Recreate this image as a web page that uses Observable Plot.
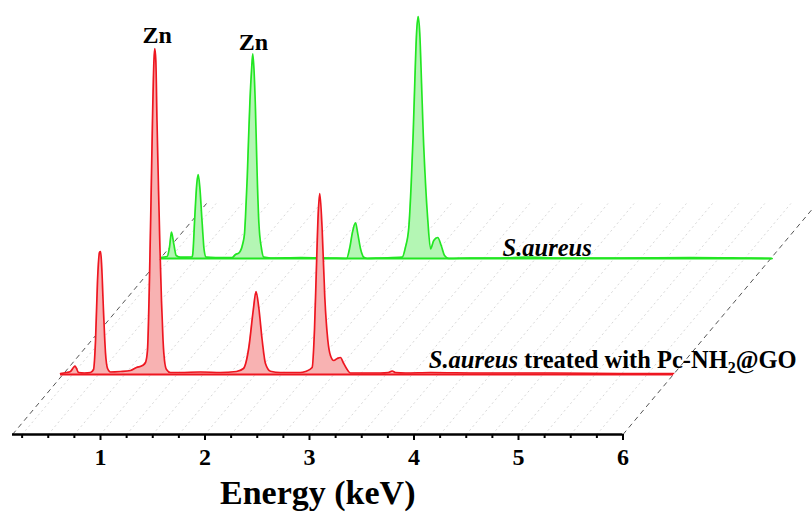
<!DOCTYPE html>
<html><head><meta charset="utf-8">
<script src="https://cdn.jsdelivr.net/npm/d3@7"></script>
<script src="https://cdn.jsdelivr.net/npm/@observablehq/plot@0.6"></script>
<style>body{margin:0;background:#fff}#chart svg{display:block}</style>
</head><body><div id="chart"></div>
<script>
// ---------- data ----------
const majorTicks = [1, 2, 3, 4, 5, 6];
const minorTicks = [0.25, 0.5, 0.75, 1.25, 1.5, 1.75, 2.25, 2.5, 2.75, 3.25, 3.5, 3.75, 4.25, 4.5, 4.75, 5.25, 5.5, 5.75];
const gridTicks = [0.25, 0.5, 0.75, 1, 1.25, 1.5, 1.75, 2, 2.25, 2.5, 2.75, 3, 3.25, 3.5, 3.75, 4, 4.25, 4.5, 4.75, 5, 5.25, 5.5, 5.75];
const axisRange = [0.158, 6];
const axisTitle = "Energy (keV)";

// S.aureus treated with Pc-NH2@GO (front, red)
const redEnergy = [0.139,0.196,0.234,0.263,0.278,0.292,0.311,0.368,0.426,0.455,0.474,0.493,0.512,0.522,0.531,0.550,0.569,0.589,0.617,0.713,0.809,0.866,0.923,0.952,0.971,0.990,1.005,1.019,1.033,1.041,1.051,1.062,1.077,1.091,1.105,1.120,1.134,1.153,1.191,1.287,1.478,1.670,1.823,1.890,1.941,1.983,2.010,2.036,2.069,2.100,2.148,2.244,2.340,2.435,2.483,2.547,2.569,2.589,2.605,2.620,2.643,2.668,2.697,2.722,2.754,2.787,2.818,2.844,2.876,2.914,3.010,3.201,3.278,3.313,3.344,3.440,3.679,4.158,4.828,5.498,6.005];
const redCounts = [1,2,3,7,8.5,6,2,1.5,2,5,34,94,122,123,112,64,22,6,2.5,3,4,7,9,12,24,94,174,254,314,326,314,254,184,124,74,34,14,5,2,2,2.5,2,3,6,27,64,83,67,34,11,3.3,2,2,2,3,7,44,111,161,181,144,77,34,19,14,16,17,12,6,1.5,1.5,1.5,2,3.5,2,1.5,2,1.5,1.5,1,1];

// S.aureus (back, green)
const greenEnergy = [0.158,0.222,0.244,0.263,0.285,0.308,0.349,0.461,0.467,0.486,0.505,0.519,0.534,0.557,0.576,0.595,0.684,0.844,0.876,0.907,0.945,0.962,0.971,0.988,1.000,1.014,1.029,1.041,1.053,1.067,1.083,1.099,1.124,1.146,1.211,1.498,1.785,1.938,1.970,1.992,2.024,2.046,2.072,2.103,2.136,2.263,2.471,2.502,2.534,2.557,2.576,2.591,2.608,2.624,2.639,2.656,2.672,2.694,2.716,2.742,2.773,2.811,2.844,2.876,2.917,3.124,3.411,3.670,3.986,4.560,5.230,5.708,6.011];
const greenCounts = [1,2,11.3,26.3,14.7,3,1.3,1.5,4.7,41.3,74.7,84,71.3,34.7,8,1.3,1,1,4,5.3,14.7,25,41.3,81.3,118,158,188,204.7,188,148,83,36,10,1.3,0.5,1,0.5,0,11.3,24.7,35.7,24.7,9.7,1.3,0,0.5,1.3,11.3,31,75,125,175,225,242,225,175,125,75,38,9.7,18,21,13,3,0,0.5,0.5,1.5,0.5,0.5,1,0.5,0];

const seriesLabels = ["S.aureus treated with Pc-NH2@GO", "S.aureus"];
const labelEnergy = [3.663, 3.431];
const labelHeight = [7, 3];
const peakLabels = ["Zn", "Zn"];
const peakEnergy = [1.064, 1.048];
const peakHeight = [332, 209];

// ---------- layout (pseudo-3D depth offsets) ----------
const W = 812, H = 519;
const pxPerKeV = 104.5, x0px = -4.5;
const depth = {
  red:   {dx: 50 / pxPerKeV,  dy: 60},
  green: {dx: 148 / pxPerKeV, dy: 176},
  back:  {dx: 194 / pxPerKeV, dy: 231}
};
const redColor = "#ee1620", redFill = "#f8b2b2";
const greenColor = "#22e622", greenFill = "#b4f6b4";
const font = "'Liberation Serif', 'Times New Roman', serif";

function build(E, C, d) {
  return E.map((e, i) => ({x: e + d.dx, y: C[i] + d.dy, base: d.dy}));
}
const red = build(redEnergy, redCounts, depth.red);
const green = build(greenEnergy, greenCounts, depth.green);

const series = [
  {d: depth.red, e: labelEnergy[0], h: labelHeight[0], text: seriesLabels[0]},
  {d: depth.green, e: labelEnergy[1], h: labelHeight[1], text: seriesLabels[1]}
];
const zn = [
  {d: depth.red, e: peakEnergy[0], h: peakHeight[0], text: peakLabels[0]},
  {d: depth.green, e: peakEnergy[1], h: peakHeight[1], text: peakLabels[1]}
];

const chart = Plot.plot({
  width: W, height: H,
  marginLeft: 0, marginRight: 0, marginTop: 0, marginBottom: 85,
  style: {fontFamily: font, background: "#fff", overflow: "visible"},
  x: {domain: [-x0px / pxPerKeV, (W - x0px) / pxPerKeV]},
  y: {domain: [0, H - 85], axis: null},
  marks: [
    // faint diagonal grid
    Plot.link(gridTicks, {x1: d => d, y1: 0, x2: d => d + depth.back.dx, y2: depth.back.dy,
      stroke: "#cdcdcd", strokeWidth: 0.8, strokeDasharray: "2,3"}),
    // dashed edges of the depth plane
    Plot.link(axisRange, {x1: d => d, y1: 0, x2: d => d + depth.back.dx, y2: depth.back.dy,
      stroke: "#555", strokeWidth: 1, strokeDasharray: "5,4"}),
    // back spectrum (green)
    Plot.areaY(green, {x: "x", y1: "base", y2: "y", fill: greenFill, curve: "monotone-x"}),
    Plot.ruleY([depth.green.dy], {x1: greenEnergy[0] + depth.green.dx, x2: greenEnergy[greenEnergy.length - 1] + depth.green.dx, stroke: greenColor, strokeWidth: 1.8}),
    Plot.line(green, {x: "x", y: "y", stroke: greenColor, strokeWidth: 1.7, curve: "monotone-x"}),
    // front spectrum (red)
    Plot.areaY(red, {x: "x", y1: "base", y2: "y", fill: redFill, curve: "monotone-x"}),
    Plot.ruleY([depth.red.dy], {x1: redEnergy[0] + depth.red.dx, x2: redEnergy[redEnergy.length - 1] + depth.red.dx, stroke: redColor, strokeWidth: 1.8}),
    Plot.line(red, {x: "x", y: "y", stroke: redColor, strokeWidth: 1.7, curve: "monotone-x"}),
    // peak and series labels
    Plot.text(zn, {x: d => d.e + d.d.dx, y: d => d.h + d.d.dy, text: "text", lineAnchor: "bottom",
      fontSize: 24, fontWeight: "bold", fill: "#000"}),
    Plot.text(series, {x: d => d.e + d.d.dx, y: d => d.h + d.d.dy, text: "text", lineAnchor: "bottom", textAnchor: "start",
      fontSize: 24.5, fontWeight: "bold", fill: "#000"}),
    // axis
    Plot.ruleY([0], {x1: axisRange[0], x2: axisRange[1], stroke: "#000", strokeWidth: 2.5}),
    Plot.axisX(minorTicks, {anchor: "bottom", tickSize: 4, strokeWidth: 2, tickFormat: () => "", label: null}),
    Plot.axisX(majorTicks, {anchor: "bottom", tickSize: 6, strokeWidth: 2, tickFormat: () => "", label: null}),
    Plot.text(majorTicks, {x: d => d, y: 0, dy: 23, text: d => String(d), fontSize: 24, fontWeight: "bold", fill: "#000"}),
    Plot.text([axisTitle], {x: (axisRange[0] + axisRange[1]) / 2, y: 0, dy: 59, text: d => d, fontSize: 34, fontWeight: "bold", fill: "#000"})
  ]
});

// mixed styling inside series labels: italic species name, subscript 2
chart.querySelectorAll("text").forEach(t => {
  const s = t.textContent;
  if (!s.startsWith("S.aureus")) return;
  t.textContent = "";
  t.setAttribute("style", (t.getAttribute("style") || "") + ";white-space:pre");
  const ns = "http://www.w3.org/2000/svg";
  const add = (txt, attrs) => { const sp = document.createElementNS(ns, "tspan"); sp.textContent = txt; for (const k in attrs) sp.setAttribute(k, attrs[k]); t.appendChild(sp); };
  add("S.aureus", {"font-style": "italic"});
  const rest = s.slice("S.aureus".length);
  if (rest) {
    const i = rest.indexOf("2");
    add(rest.slice(0, i), {});
    add("2", {"font-size": "16", dy: "5"});
    add(rest.slice(i + 1), {dy: "-5"});
  }
});
document.getElementById("chart").appendChild(chart);
</script>
</body></html>
